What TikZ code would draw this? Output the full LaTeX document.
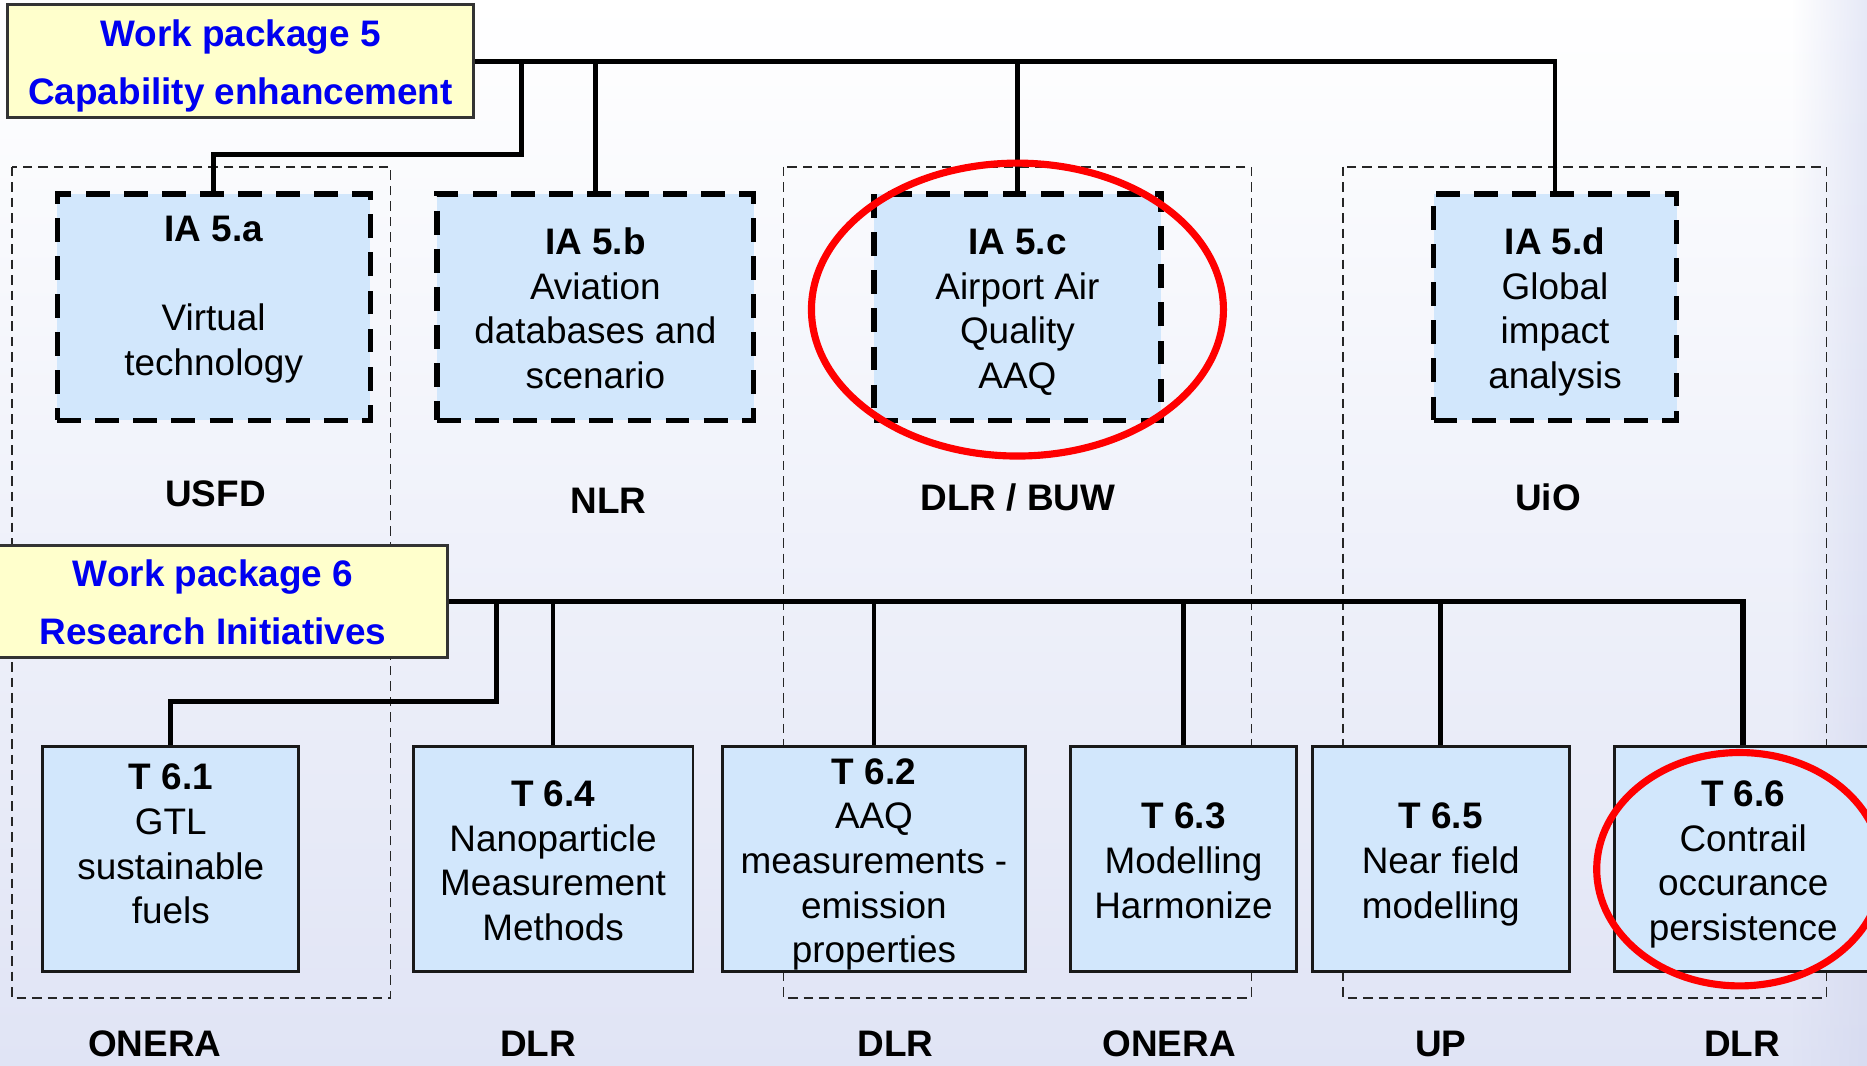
\documentclass[tikz,border=0pt]{standalone}
\usepackage{fontspec}
\setmainfont{Liberation Sans}
\usetikzlibrary{positioning}
\usetikzlibrary{fadings}

\newcommand{\padtop}{\mbox{}\\[-8pt]}
\newcommand{\padbot}{\\[-20pt]\mbox{}}

\begin{document}
\begin{tikzpicture}[x=0.5pt,y=-0.5pt,
	txt/.style={font=\fontsize{15.5}{18.75}\selectfont,align=center,inner sep=0pt},
	ia node/.style={txt,rectangle,draw=black,fill=boxblue,line width=2.2pt,
		dash pattern=on 10pt off 6pt,minimum height=95pt},
	task node/.style={txt,rectangle,draw=black!90,fill=boxblue,line width=1.2pt,
		minimum height=94.5pt},
	wp node/.style={rectangle,draw=black!80,fill=wpyellow,line width=1.2pt,inner sep=0pt,
		text=wpblue,font=\fontsize{15.5}{24.5}\selectfont\bfseries,align=center},
	org/.style={font=\fontsize{15.5}{18.75}\selectfont\bfseries,inner sep=0pt},
	group/.style={draw=black!85,line width=0.7pt,dash pattern=on 4pt off 2.5pt},
	link/.style={line width=2pt},
	highlight/.style={draw=hlred,line width=3pt}]
	
	\definecolor{boxblue}{RGB}{210,231,252}
	\definecolor{wpyellow}{RGB}{255,255,204}
	\definecolor{wpblue}{RGB}{0,0,240}
	\definecolor{hlred}{RGB}{255,0,0}
	\definecolor{bglow}{RGB}{224,228,245}
	\definecolor{bgstripa}{RGB}{230,233,247}
	\definecolor{bgstripb}{RGB}{216,220,241}
	
	\useasboundingbox (0,0) rectangle (1568,895);
	\clip (0,0) rectangle (1568,895);
	\shade[top color=white, bottom color=bglow] (0,0) rectangle (1568,895);
	\shade[top color=bgstripa, bottom color=bgstripb, path fading=west] (1505,0) rectangle (1568,895);
	
	\draw[group] (10,140) rectangle (328,838);
	\draw[group] (658,140) rectangle (1051,838);
	\draw[group] (1128,140) rectangle (1534,838);
	
	\node[wp node, minimum width=196pt, minimum height=47.5pt] (wp5) at (202,51.5)
		{\padtop Work package 5\\Capability enhancement\padbot};
	\node[wp node, minimum width=197pt, minimum height=47pt] (wp6) at (179,505)
		{\padtop Work package 6\\Research Initiatives\padbot};
	
	\node[ia node, minimum width=131.5pt] (ia5a) at (179.5,258)
		{\padtop\textbf{IA 5.a}\\[18.75pt]Virtual\\technology\\[-9pt]\mbox{}};
	\node[ia node, minimum width=133pt] (ia5b) at (500,258)
		{\padtop\textbf{IA 5.b}\\Aviation\\databases and\\scenario\padbot};
	\node[ia node, minimum width=120.5pt] (ia5c) at (854.5,258)
		{\padtop\textbf{IA 5.c}\\Airport Air\\Quality\\AAQ\padbot};
	\node[ia node, minimum width=102pt] (ia5d) at (1306,258)
		{\padtop\textbf{IA 5.d}\\Global\\impact\\analysis\padbot};
	
	\node[org] (usfd) at (181,415) {USFD};
	\node[org] (nlr) at (511,421) {NLR};
	\node[org] (dlrbuw) at (855,418) {DLR / BUW};
	\node[org] (uio) at (1300,418) {UiO};
	
	\node[task node, minimum width=107.5pt] (t61) at (143.5,721.5)
		{\padtop\textbf{T 6.1}\\GTL\\sustainable\\fuels\\[-6pt]\mbox{}};
	\node[task node, minimum width=117.5pt] (t64) at (464.5,721.5)
		{\padtop\textbf{T 6.4}\\Nanoparticle\\Measurement\\Methods\padbot};
	\node[task node, minimum width=127pt] (t62) at (734,721.5)
		{\padtop\textbf{T 6.2}\\AAQ\\measurements -\\emission\\properties\padbot};
	\node[task node, minimum width=95pt] (t63) at (994,721.5)
		{\padtop\textbf{T 6.3}\\Modelling\\Harmonize\padbot};
	\node[task node, minimum width=108pt] (t65) at (1210,721.5)
		{\padtop\textbf{T 6.5}\\Near field\\modelling\padbot};
	\node[task node, minimum width=108pt] (t66) at (1464,721.5)
		{\padtop\textbf{T 6.6}\\Contrail\\occurance\\persistence\padbot};
	
	\node[org] (onera1) at (130,877) {ONERA};
	\node[org] (dlr1) at (452,877) {DLR};
	\node[org] (dlr2) at (752,877) {DLR};
	\node[org] (onera2) at (982,877) {ONERA};
	\node[org] (up) at (1210,877) {UP};
	\node[org] (dlr3) at (1463,877) {DLR};
	
	\coordinate (j5) at (438,51.5);
	\coordinate (j6) at (417,505);
	
	\draw[link] (wp5.east) -| (ia5d.north);
	\draw[link] (j5) -- ++(0,78.5) -| (ia5a.north);
	\draw[link,line width=2.3pt] (wp6.east) -| (t66.north);
	\draw[link] (j6) -- ++(0,84) -| (t61.north);
	
	\path[link]
	(ia5b.north) edge (ia5b |- wp5.east)
	(ia5c.north) edge (ia5c |- wp5.east)
	(t64.north) edge (t64 |- wp6.east)
	(t62.north) edge (t62 |- wp6.east)
	(t63.north) edge (t63 |- wp6.east)
	(t65.north) edge (t65 |- wp6.east);
	
	\draw[highlight] ([yshift=-1pt]ia5c.center) ellipse [x radius=173, y radius=123];
	\draw[highlight] ([xshift=-1.5pt,yshift=-4.25pt]t66.center) ellipse [x radius=120, y radius=98];
\end{tikzpicture}
\end{document}
